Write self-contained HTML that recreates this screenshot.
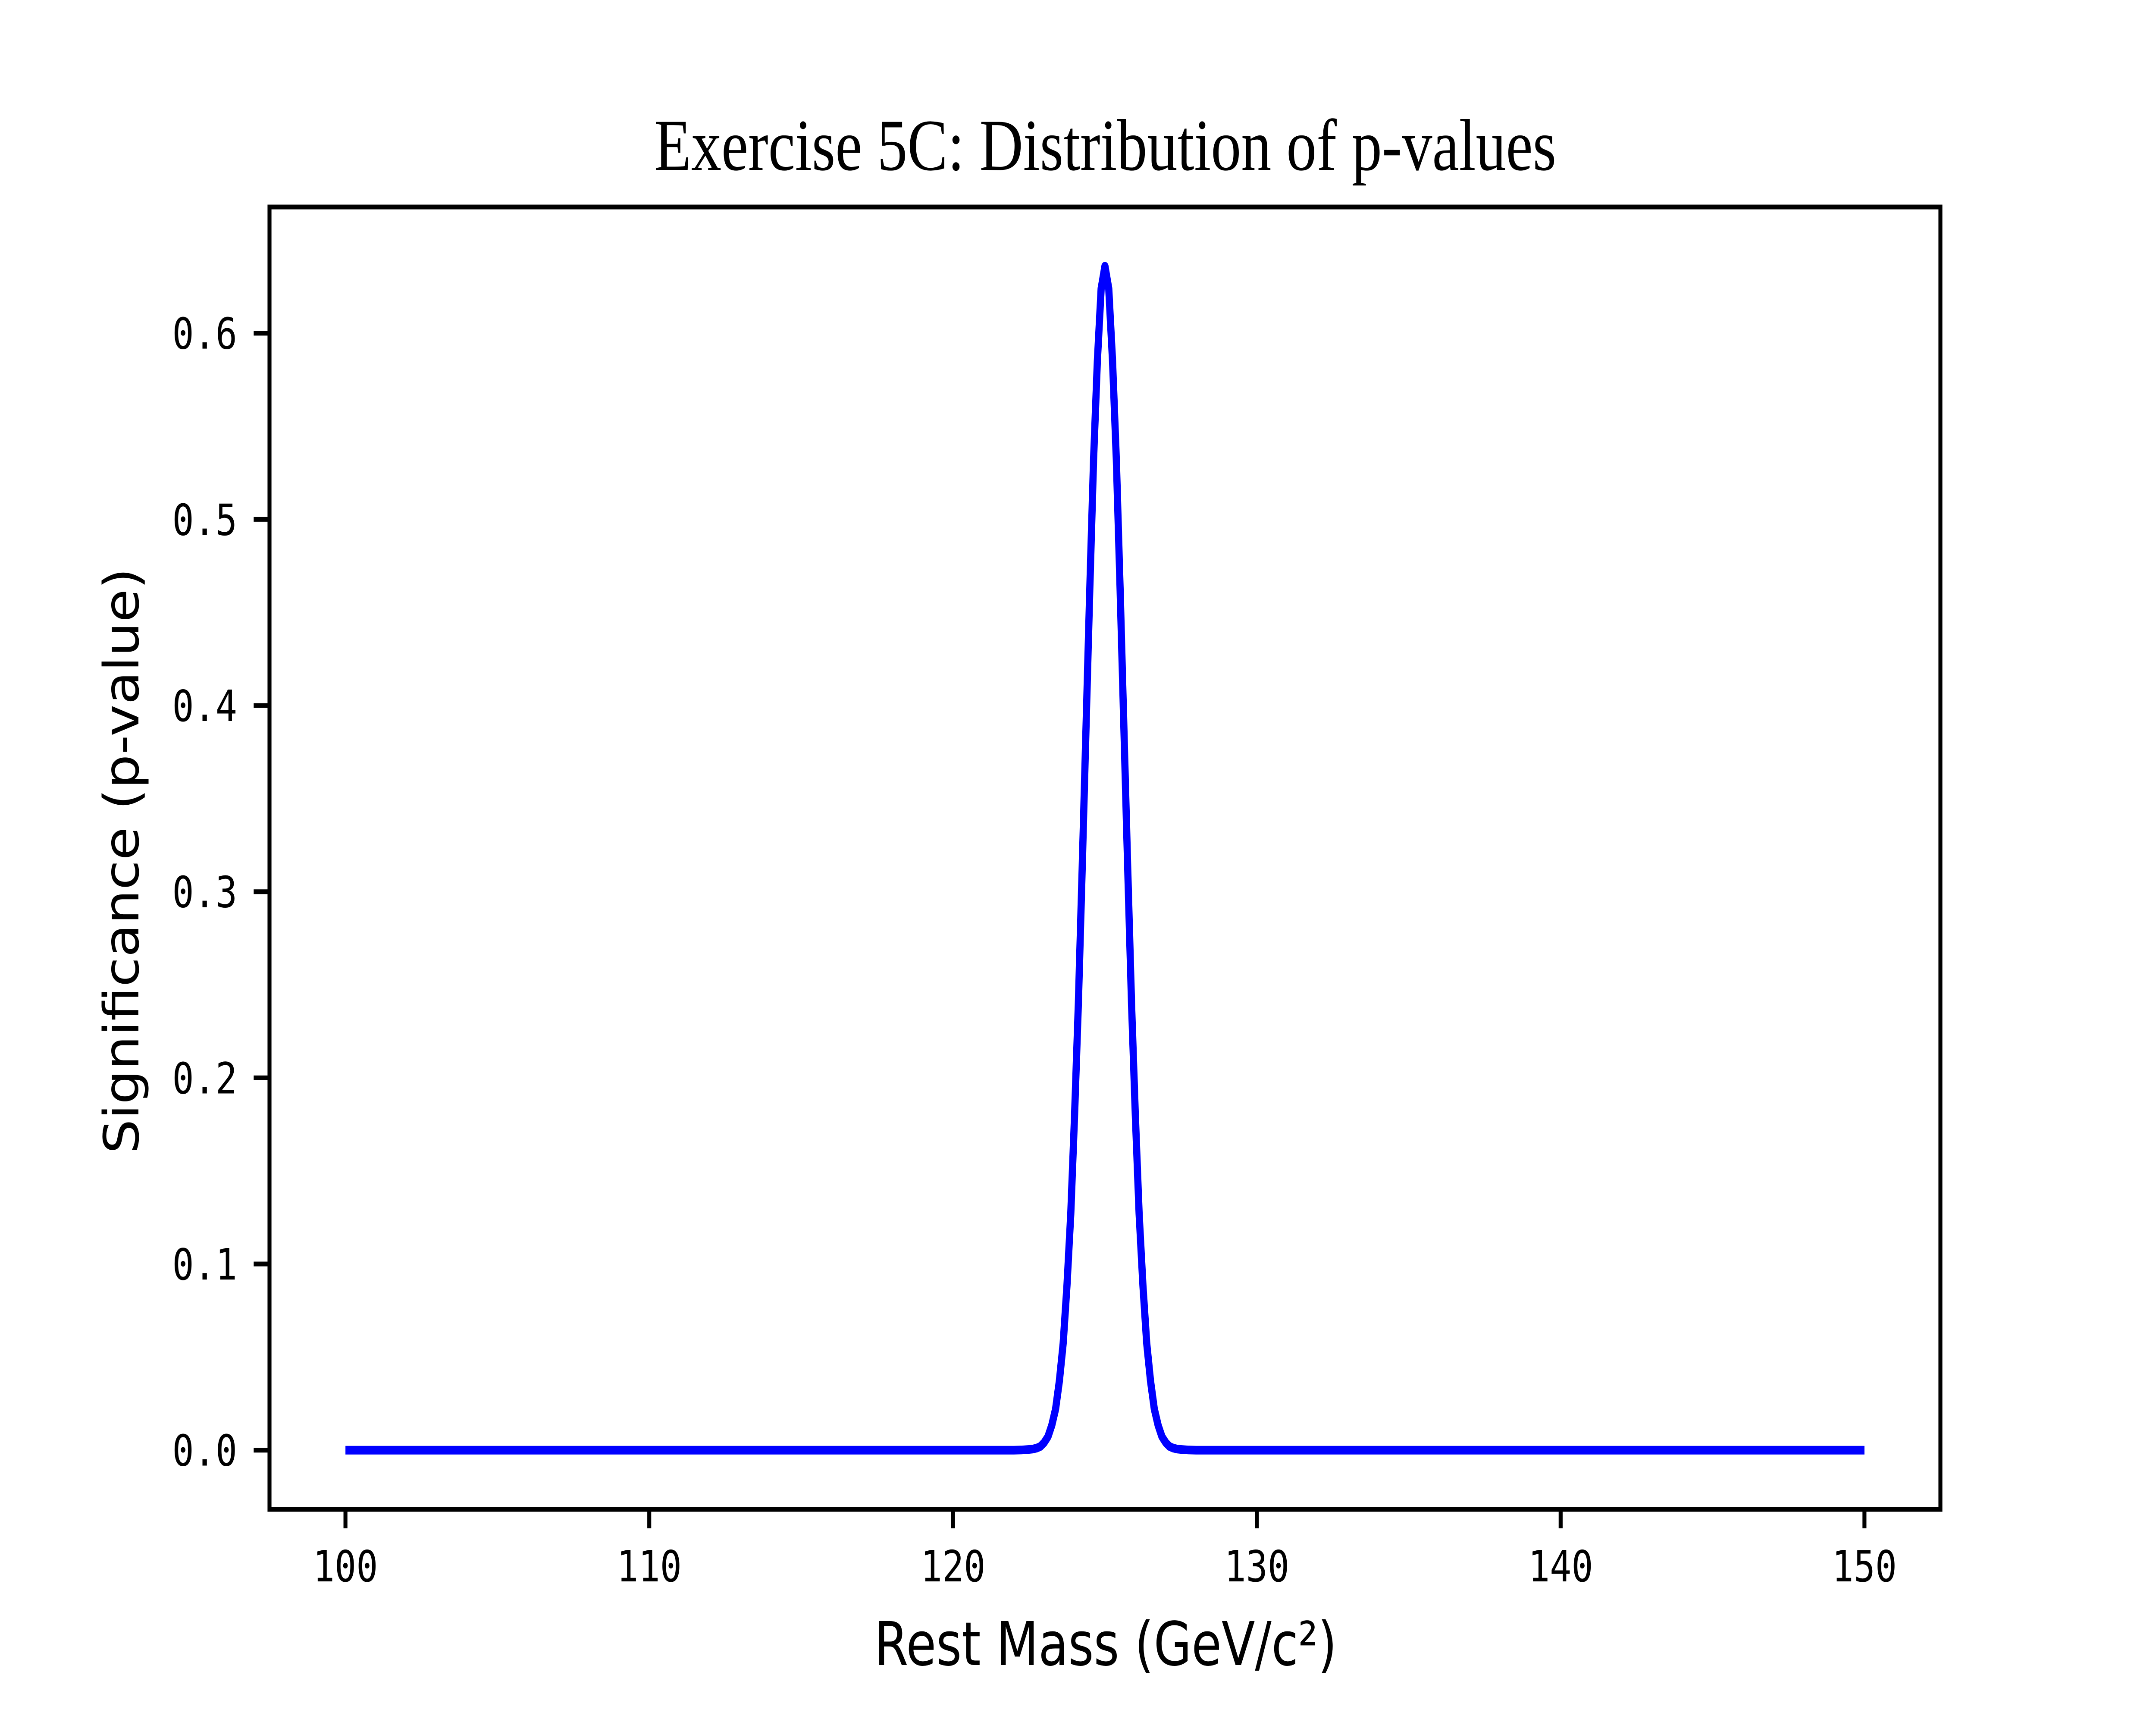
<!DOCTYPE html>
<html><head><meta charset="utf-8"><style>
html,body{margin:0;padding:0;background:#fff;overflow:hidden;width:100%;height:100%;}
svg{display:block;width:100vw;height:100vh;}
</style></head><body>
<svg id="chart" viewBox="0 0 6000 4000" preserveAspectRatio="none" xmlns="http://www.w3.org/2000/svg">
<rect x="0" y="0" width="6000" height="4000" fill="#fff"/>
<text x="3076" y="394" text-anchor="middle" font-family="Liberation Serif, serif" font-size="170" textLength="2510" lengthAdjust="spacingAndGlyphs">Exercise 5C: Distribution of p-values</text>
<g id="plot"></g>
<text x="3077" y="3861" text-anchor="middle" font-family="DejaVu Sans, Liberation Sans, sans-serif" font-size="140" textLength="1287" lengthAdjust="spacingAndGlyphs">Rest Mass (GeV/c²)</text>
<text transform="translate(385,1996) rotate(-90)" text-anchor="middle" font-family="DejaVu Sans, Liberation Sans, sans-serif" font-size="135" textLength="1358" lengthAdjust="spacingAndGlyphs">Significance (p-value)</text>
</svg>
<script>
const xValues = [100,122,122.25,122.5,122.625,122.75,122.875,123,123.125,123.25,123.375,123.5,123.625,123.75,123.875,124,124.125,124.25,124.375,124.5,124.625,124.75,124.875,125,125.125,125.25,125.375,125.5,125.625,125.75,125.875,126,126.125,126.25,126.375,126.5,126.625,126.75,126.875,127,127.125,127.25,127.375,127.5,127.75,128,150];
const yValues = [0,0,0.0001,0.0004,0.0006,0.0011,0.0020,0.0041,0.0073,0.0134,0.0221,0.0372,0.0574,0.0885,0.127,0.180,0.240,0.312,0.387,0.462,0.532,0.585,0.624,0.636,0.624,0.585,0.532,0.462,0.387,0.312,0.240,0.180,0.127,0.0885,0.0574,0.0372,0.0221,0.0134,0.0073,0.0041,0.0020,0.0011,0.0006,0.0004,0.0001,0,0];
const xTicks = [100,110,120,130,140,150];
const yTicks = [0,0.1,0.2,0.3,0.4,0.5,0.6];
const yTickLabels = ['0.0','0.1','0.2','0.3','0.4','0.5','0.6'];

const L=750,R=5400,T=480,B=3500;
const xmin0=Math.min(...xValues), xmax0=Math.max(...xValues);
const ymin0=Math.min(...yValues), ymax0=Math.max(...yValues);
const xs=(xmax0-xmin0)*0.05, ys=(ymax0-ymin0)*0.05;
const xmin=xmin0-xs,xmax=xmax0+xs,ymin=ymin0-ys,ymax=ymax0+ys;
const sx=v=>L+(v-xmin)/(xmax-xmin)*(R-L);
const sy=v=>B-(v-ymin)/(ymax-ymin)*(B-T);
const NS='http://www.w3.org/2000/svg';
const g=document.getElementById('plot');
function mk(tag,attrs){const e=document.createElementNS(NS,tag);for(const k in attrs)e.setAttribute(k,attrs[k]);g.appendChild(e);return e;}

const line=mk('polyline',{points:xValues.map((x,i)=>sx(x)+','+sy(yValues[i])).join(' '),fill:'none',stroke:'#0000ff','stroke-width':20,'stroke-linejoin':'round'});



const frame=mk('rect',{x:L,y:T,width:R-L,height:B-T,fill:'none',stroke:'#000','stroke-width':11});



xTicks.forEach(t=>{
  const tk=mk('line',{x1:sx(t),x2:sx(t),y1:B,y2:B+44,stroke:'#000','stroke-width':11});
  
  
  const lb=mk('text',{x:sx(t),y:B+167,'text-anchor':'middle','font-family':'DejaVu Sans Mono, Liberation Mono, monospace','font-size':100});
  lb.textContent=String(t);
  
  
});
yTicks.forEach((t,i)=>{
  const tk=mk('line',{x1:L-44,x2:L,y1:sy(t),y2:sy(t),stroke:'#000','stroke-width':11});
  
  
  const lb=mk('text',{x:L-90,y:sy(t)+36,'text-anchor':'end','font-family':'DejaVu Sans Mono, Liberation Mono, monospace','font-size':100});
  lb.textContent=yTickLabels[i];
  
  
});
</script>
</body></html>
